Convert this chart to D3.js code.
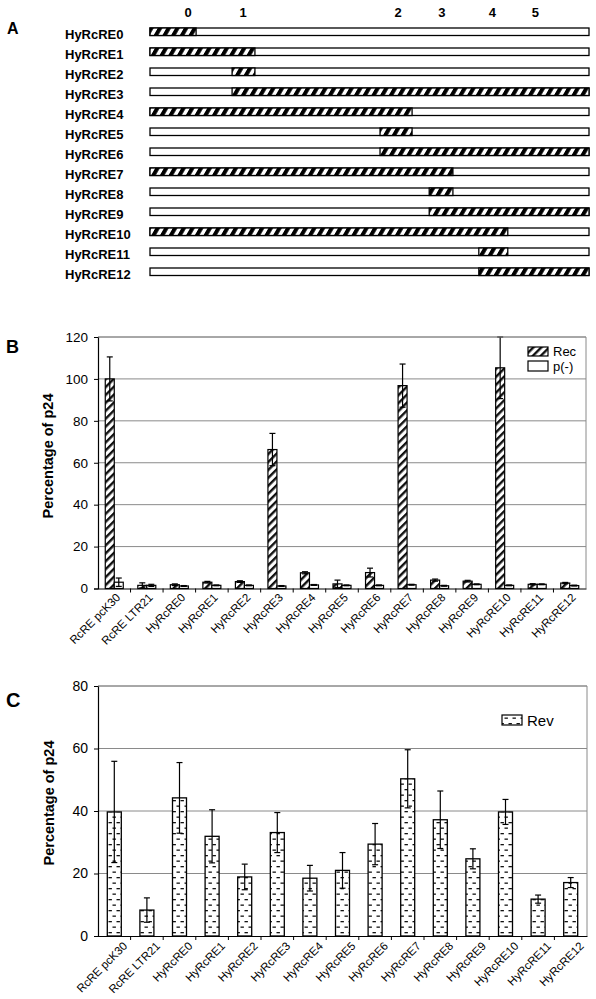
<!DOCTYPE html>
<html><head><meta charset="utf-8">
<script src="https://cdn.jsdelivr.net/npm/d3@7"></script>
<style>
body{margin:0;background:#fff;}
text{font-family:Arial,"Liberation Sans",sans-serif;fill:#000;}
</style></head>
<body>
<script>
// ---------- Panel A data ----------
const elements = ["HyRcRE0","HyRcRE1","HyRcRE2","HyRcRE3","HyRcRE4","HyRcRE5","HyRcRE6","HyRcRE7","HyRcRE8","HyRcRE9","HyRcRE10","HyRcRE11","HyRcRE12"];
const segStart = [0, 0, 18.7, 18.7, 0, 52.4, 52.4, 0, 63.6, 63.6, 0, 74.9, 74.9];
const segEnd   = [10.5, 23.9, 23.9, 100, 59.7, 59.7, 100, 69.0, 69.0, 100, 81.5, 81.5, 100];
const markerLabels = ["0","1","2","3","4","5"];
const markerPos = [8.7, 21.2, 56.5, 66.5, 78.0, 87.8];

// ---------- Panel B / C data ----------
const categories = ["RcRE pcK30","RcRE LTR21","HyRcRE0","HyRcRE1","HyRcRE2","HyRcRE3","HyRcRE4","HyRcRE5","HyRcRE6","HyRcRE7","HyRcRE8","HyRcRE9","HyRcRE10","HyRcRE11","HyRcRE12"];
const recValues  = [100, 1.5, 1.8, 3, 3.3, 66.3, 7.5, 2.2, 7.6, 96.8, 4, 3.5, 105.3, 2, 2.6];
const recErr     = [10.5, 1.2, 0.4, 0.4, 0.4, 7.7, 0.5, 1.8, 2.1, 10.3, 0.5, 0.4, 14.7, 0.3, 0.3];
const pnegValues = [3, 1.5, 1.2, 1.5, 1.5, 1.2, 1.7, 1.5, 1.5, 1.8, 1.3, 2, 1.5, 2, 1.4];
const pnegErr    = [2, 0.5, 0.2, 0.2, 0.2, 0.2, 0.2, 0.2, 0.2, 0.2, 0.2, 0.2, 0.2, 0.2, 0.2];
const revValues  = [39.7, 8.3, 44.2, 31.9, 18.9, 33.1, 18.5, 21, 29.4, 50.3, 37.2, 24.7, 39.7, 11.8, 17.1];
const revErr     = [16.2, 3.9, 11.3, 8.5, 4.1, 6.4, 4.1, 5.7, 6.6, 9.3, 9.2, 3.2, 4, 1.3, 1.6];
const ticksB = [0, 20, 40, 60, 80, 100, 120];
const ticksC = [0, 20, 40, 60, 80];

const svg = d3.select("body").append("svg").attr("width",596).attr("height",999)
  .style("display","block");
svg.append("rect").attr("width",596).attr("height",999).attr("fill","#fff");

// ---------- patterns ----------
const defs = svg.append("defs");
const pA = defs.append("pattern").attr("id","hatchA").attr("patternUnits","userSpaceOnUse")
  .attr("width",8.7).attr("height",20).attr("patternTransform","skewX(-30)");
pA.append("rect").attr("width",8.7).attr("height",20).attr("fill","#fff");
pA.append("rect").attr("x",0).attr("width",4.6).attr("height",20).attr("fill","#000");

const pB = defs.append("pattern").attr("id","hatchB").attr("patternUnits","userSpaceOnUse")
  .attr("width",5.6).attr("height",10).attr("patternTransform","rotate(45)");
pB.append("rect").attr("width",5.6).attr("height",10).attr("fill","#fff");
pB.append("rect").attr("width",2.4).attr("height",10).attr("fill","#111");

const pC = defs.append("pattern").attr("id","dashC").attr("patternUnits","userSpaceOnUse")
  .attr("width",8).attr("height",11);
pC.append("rect").attr("width",8).attr("height",11).attr("fill","#fff");
pC.append("rect").attr("x",0.5).attr("y",2.5).attr("width",3.4).attr("height",1.3).attr("fill","#111");
pC.append("rect").attr("x",4.5).attr("y",8).attr("width",3.4).attr("height",1.3).attr("fill","#111");

// ---------- Panel A ----------
const gA = svg.append("g");
const xA = d3.scaleLinear().domain([0,100]).range([150,589]);
const yA = d3.scaleBand().domain(elements).range([27, 27+20*elements.length]);
gA.append("text").attr("x",7).attr("y",34).attr("font-size",16).attr("font-weight","bold").text("A");
gA.selectAll(".mk").data(markerLabels).join("text")
  .attr("x",(d,i)=>xA(markerPos[i])).attr("y",17).attr("text-anchor","middle")
  .attr("font-size",13).attr("font-weight","bold").text(d=>d);
elements.forEach((e,i)=>{
  const y = yA(e)+1;
  gA.append("text").attr("x",65).attr("y",yA(e)+12).attr("font-size",13).attr("font-weight","bold").text(e);
  gA.append("rect").attr("x",xA(0)).attr("y",y).attr("width",xA(100)-xA(0)).attr("height",7.5)
    .attr("fill","#fff").attr("stroke","#000").attr("stroke-width",1.3);
  gA.append("rect").attr("x",xA(segStart[i])).attr("y",y).attr("width",xA(segEnd[i])-xA(segStart[i])).attr("height",7.5)
    .attr("fill","url(#hatchA)").attr("stroke","#000").attr("stroke-width",1.3);
});

// ---------- generic chart frame ----------
function frame(g, x, y, ticks, left, right, top, bottom){
  g.selectAll(".grid").data(ticks.filter(t=>t>0)).join("line")
    .attr("x1",left).attr("x2",right).attr("y1",d=>y(d)).attr("y2",d=>y(d))
    .attr("stroke","#8a8a8a").attr("stroke-width",1);
  g.append("line").attr("x1",right).attr("x2",right).attr("y1",top).attr("y2",bottom)
    .attr("stroke","#8a8a8a").attr("stroke-width",1);
  const ax = d3.axisLeft(y).tickValues(ticks).tickSize(4).tickPadding(6);
  const ga = g.append("g").attr("transform",`translate(${left},0)`).call(ax);
  ga.select(".domain").attr("stroke","#000").attr("stroke-width",1.2);
  ga.selectAll("line").attr("stroke","#000");
  ga.selectAll("text").attr("fill","#000");
  return ga;
}
function xAxis(g, x, bottom, fs, dx, dy){
  const ax = d3.axisBottom(x).tickSize(0).tickFormat("");
  const gx = g.append("g").attr("transform",`translate(0,${bottom})`).call(ax);
  gx.select(".domain").attr("stroke","#000").attr("stroke-width",1.2);
  g.selectAll(".bt").data(x.domain().slice(1)).join("line")
    .attr("x1",d=>x(d)).attr("x2",d=>x(d)).attr("y1",bottom).attr("y2",bottom+4)
    .attr("stroke","#000");
  g.selectAll(".xl").data(x.domain()).join("text")
    .attr("transform",d=>`translate(${x(d)+x.bandwidth()/2+dx},${bottom+dy}) rotate(-45)`)
    .attr("text-anchor","end").attr("dy","0.71em").attr("font-size",fs).attr("fill","#000").text(d=>d);
}
function errBar(g, cx, yTop, yBot, cap){
  g.append("line").attr("x1",cx).attr("x2",cx).attr("y1",yTop).attr("y2",yBot).attr("stroke","#000").attr("stroke-width",1.2);
  g.append("line").attr("x1",cx-cap).attr("x2",cx+cap).attr("y1",yTop).attr("y2",yTop).attr("stroke","#000").attr("stroke-width",1.2);
  g.append("line").attr("x1",cx-cap).attr("x2",cx+cap).attr("y1",yBot).attr("y2",yBot).attr("stroke","#000").attr("stroke-width",1.2);
}

// ---------- Panel B ----------
const gB = svg.append("g");
const xB = d3.scaleBand().domain(categories).range([98,586]);
const yB = d3.scaleLinear().domain([0,120]).range([588.5,337]);
const axB = frame(gB, xB, yB, ticksB, 98, 586, 337, 588.5);
axB.selectAll("text").attr("font-size",13.5).attr("font-family","Arial, 'Liberation Sans', sans-serif");
gB.append("text").attr("x",6).attr("y",353).attr("font-size",18).attr("font-weight","bold").text("B");
gB.append("text").attr("transform","translate(53,456) rotate(-90)").attr("text-anchor","middle")
  .attr("font-size",14.5).attr("font-weight","bold").text("Percentage of p24");
const bw = 9;
categories.forEach((c,i)=>{
  const cx = xB(c)+xB.bandwidth()/2;
  gB.append("rect").attr("x",cx-bw).attr("y",yB(recValues[i])).attr("width",bw).attr("height",yB(0)-yB(recValues[i]))
    .attr("fill","url(#hatchB)").attr("stroke","#000").attr("stroke-width",1.2);
  gB.append("rect").attr("x",cx).attr("y",yB(pnegValues[i])).attr("width",bw).attr("height",yB(0)-yB(pnegValues[i]))
    .attr("fill","#fff").attr("stroke","#000").attr("stroke-width",1.2);
  errBar(gB, cx-bw/2, yB(recValues[i]+recErr[i]), yB(recValues[i]-recErr[i]), 3);
  errBar(gB, cx+bw/2, yB(pnegValues[i]+pnegErr[i]), yB(Math.max(0,pnegValues[i]-pnegErr[i])), 3);
});
xAxis(gB, xB, 588.5, 11.5, 1, 4);
gB.append("line").attr("x1",98).attr("x2",586).attr("y1",337).attr("y2",337).attr("stroke","#8a8a8a");
// legend B
gB.append("rect").attr("x",528).attr("y",347).attr("width",20).attr("height",9).attr("fill","url(#hatchB)").attr("stroke","#000").attr("stroke-width",1.2);
gB.append("text").attr("x",553).attr("y",355.5).attr("font-size",13).text("Rec");
gB.append("rect").attr("x",528).attr("y",361).attr("width",20).attr("height",10).attr("fill","#fff").attr("stroke","#000").attr("stroke-width",1.2);
gB.append("text").attr("x",553).attr("y",371).attr("font-size",13).text("p(-)");

// ---------- Panel C ----------
const gC = svg.append("g");
const xC = d3.scaleBand().domain(categories).range([98,587]);
const yC = d3.scaleLinear().domain([0,80]).range([936,686]);
const axC = frame(gC, xC, yC, ticksC, 98, 587, 686, 936);
axC.selectAll("text").attr("font-size",14).attr("font-family","Arial, 'Liberation Sans', sans-serif");
gC.append("text").attr("x",6).attr("y",707).attr("font-size",20).attr("font-weight","bold").text("C");
gC.append("text").attr("transform","translate(54,803) rotate(-90)").attr("text-anchor","middle")
  .attr("font-size",14.5).attr("font-weight","bold").text("Percentage of p24");
const cw = 14;
categories.forEach((c,i)=>{
  const cx = xC(c)+xC.bandwidth()/2;
  gC.append("rect").attr("x",cx-cw/2).attr("y",yC(revValues[i])).attr("width",cw).attr("height",yC(0)-yC(revValues[i]))
    .attr("fill","url(#dashC)").attr("stroke","#000").attr("stroke-width",1.3);
  errBar(gC, cx, yC(revValues[i]+revErr[i]), yC(revValues[i]-revErr[i]), 3);
});
xAxis(gC, xC, 936, 11.5, 8, 5);
gC.append("line").attr("x1",98).attr("x2",587).attr("y1",686).attr("y2",686).attr("stroke","#8a8a8a");
// legend C
gC.append("rect").attr("x",502).attr("y",715).attr("width",20).attr("height",10).attr("fill","url(#dashC)").attr("stroke","#000").attr("stroke-width",1.2);
gC.append("text").attr("x",527).attr("y",726).attr("font-size",15).text("Rev");
</script>
</body></html>
